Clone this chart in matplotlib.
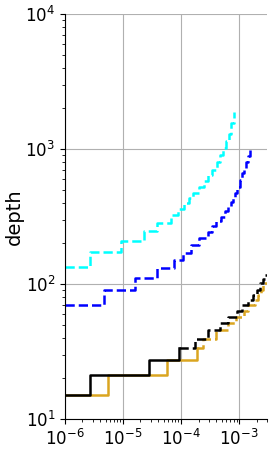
import matplotlib
matplotlib.use("Agg")
import matplotlib.pyplot as plt

cyan_x = [1e-6, 2.7e-6, 9.2e-6, 2.3e-5, 3.86e-5, 6.7e-5, 8.9e-5, 1.13e-4, 1.37e-4, 1.61e-4,
          2.04e-4, 2.49e-4, 2.92e-4, 3.42e-4, 4.18e-4, 4.7e-4, 5.3e-4, 5.97e-4, 6.73e-4,
          7.28e-4, 8.2e-4]
cyan_y = [134, 173, 209, 248, 284, 326, 361, 398, 437, 475, 523, 580, 640, 700, 800, 900,
          1017, 1150, 1300, 1550, 1880]

blue_x = [1e-6, 4.7e-6, 1.61e-5, 3.86e-5, 7.57e-5, 1.08e-4, 1.49e-4, 2.04e-4, 2.92e-4,
          3.42e-4, 4.01e-4, 4.9e-4, 5.74e-4, 6.46e-4, 7.28e-4, 7.88e-4, 8.53e-4, 9.24e-4,
          1.04e-3, 1.13e-3, 1.22e-3, 1.32e-3, 1.43e-3, 1.55e-3]
blue_y = [70, 90, 111, 132, 151, 171, 194, 219, 243, 269, 293, 315, 345, 375, 407, 440,
          472, 525, 590, 660, 723, 800, 880, 980]

black_x = [1e-6, 2.7e-6, 2.81e-5, 9.2e-5, 1.74e-4, 2.92e-4, 4.7e-4, 6.46e-4, 9.24e-4,
           1.13e-3, 1.43e-3, 1.74e-3, 2.04e-3, 2.3e-3, 2.59e-3, 2.81e-3, 3.2e-3]
black_y = [15, 21, 27.5, 33.4, 38.9, 45.4, 51.7, 57.3, 63.4, 70.3, 76, 83, 91, 101, 109,
           116, 116]

orange_x = [1e-6, 5.51e-6, 5.74e-5, 1.89e-4, 2.39e-4, 4.01e-4, 6.46e-4, 8.88e-4, 1.22e-3,
            1.43e-3, 1.89e-3, 2.13e-3, 2.39e-3, 2.59e-3, 3.2e-3]
orange_y = [15, 21, 27.5, 33.4, 38.9, 45.4, 51.7, 57.3, 63.4, 70.3, 76, 83, 91, 101, 101]

n_solid = 4  # first points drawn solid for black / orange

fig = plt.figure(figsize=(2.74, 4.51), dpi=100)
ax = fig.add_axes([0.237, 0.071, 0.737, 0.898])

lw = 1.8
ax.plot(cyan_x, cyan_y, drawstyle="steps-post", color="cyan", ls="--", lw=lw)
ax.plot(blue_x, blue_y, drawstyle="steps-post", color="blue", ls="--", lw=lw)
ax.plot(orange_x[:n_solid], orange_y[:n_solid], drawstyle="steps-post", color="#DAA520", ls="-", lw=lw)
ax.plot(orange_x[n_solid - 1:], orange_y[n_solid - 1:], drawstyle="steps-post", color="#DAA520", ls="--", lw=lw)
ax.plot(black_x[:n_solid], black_y[:n_solid], drawstyle="steps-post", color="black", ls="-", lw=lw)
ax.plot(black_x[n_solid - 1:], black_y[n_solid - 1:], drawstyle="steps-post", color="black", ls="--", lw=lw)

ax.set_xscale("log")
ax.set_yscale("log")
ax.set_xlim(1e-6, 3.0e-3)
ax.set_ylim(10, 1e4)
ax.set_xticks([1e-6, 1e-5, 1e-4, 1e-3])
ax.set_yticks([1e1, 1e2, 1e3, 1e4])
ax.grid(True, which="major", color="#b0b0b0", lw=0.8)
ax.set_axisbelow(True)
for s in ["top", "right"]:
    ax.spines[s].set_visible(False)
ax.tick_params(labelsize=12)
ax.set_ylabel("depth", fontsize=14, labelpad=1)

fig.savefig("out.png", dpi=100)
